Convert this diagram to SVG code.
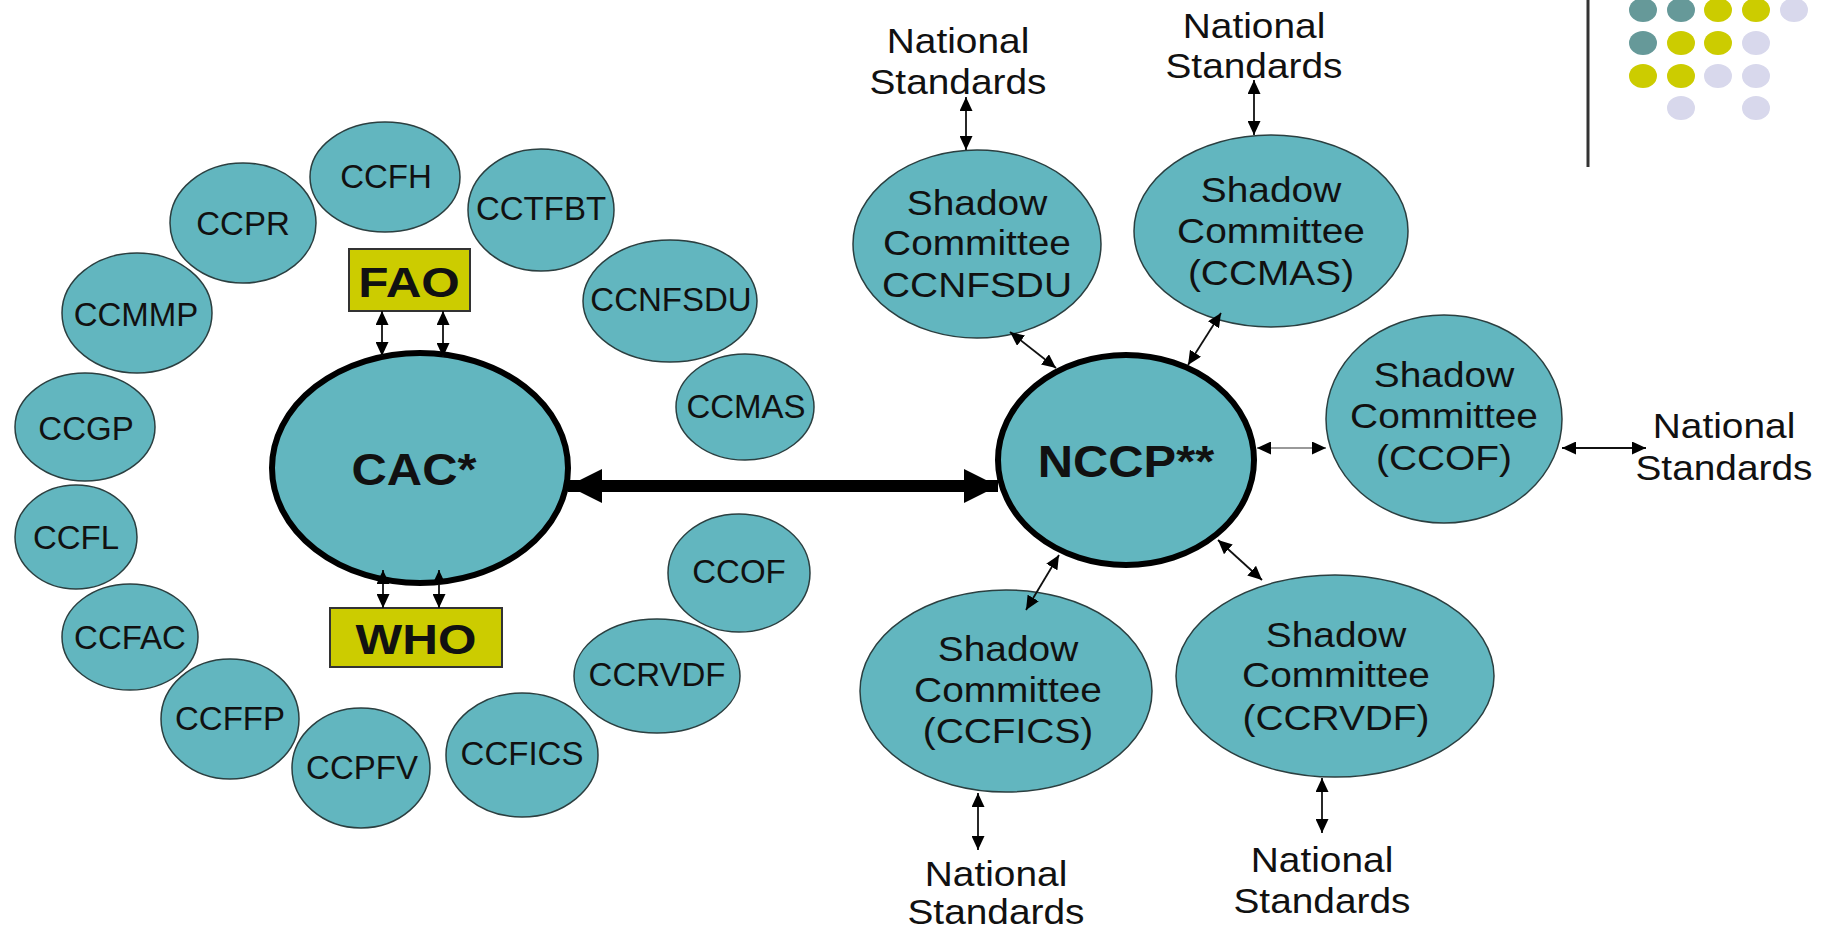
<svg xmlns="http://www.w3.org/2000/svg" width="1834" height="930" viewBox="0 0 1834 930">
<style>
.cc{fill:#62b6bf;stroke:#2b3f40;stroke-width:1.5}
.big{fill:#62b6bf;stroke:#000;stroke-width:6}
.box{fill:#cccc00;stroke:#333;stroke-width:2}
text{font-family:"Liberation Sans",Arial,sans-serif;fill:#111;text-anchor:middle}
.lbl{font-size:33px}
.bold{font-size:44px;font-weight:bold}
.bx{font-size:43px;font-weight:bold}
.sh{font-size:35px}
.ln{stroke:#111;stroke-width:1.8;fill:none;marker-start:url(#hs);marker-end:url(#he)}
.gray{stroke:#999;stroke-width:2.2}
.thick{stroke:#000;stroke-width:12;fill:none;marker-start:url(#bs);marker-end:url(#be)}
.t{fill:#669999}.y{fill:#cccc00}.l{fill:#d8d8ec}
</style>
<defs>
<marker id="he" markerUnits="userSpaceOnUse" markerWidth="14" markerHeight="13" refX="14" refY="6.5" orient="auto"><path d="M0,0L14,6.5L0,13z" fill="#000"/></marker>
<marker id="hs" markerUnits="userSpaceOnUse" markerWidth="14" markerHeight="13" refX="0" refY="6.5" orient="auto"><path d="M14,0L0,6.5L14,13z" fill="#000"/></marker>
<marker id="be" markerUnits="userSpaceOnUse" markerWidth="34" markerHeight="34" refX="34" refY="17" orient="auto"><path d="M0,0L34,17L0,34z" fill="#000"/></marker>
<marker id="bs" markerUnits="userSpaceOnUse" markerWidth="34" markerHeight="34" refX="0" refY="17" orient="auto"><path d="M34,0L0,17L34,34z" fill="#000"/></marker>
</defs>
<rect width="1834" height="930" fill="#fff"/>

<g id="decor">
<line x1="1588" y1="0" x2="1588" y2="167" stroke="#333" stroke-width="3"/>
<ellipse class="t" cx="1643" cy="10" rx="14" ry="12"/><ellipse class="t" cx="1681" cy="10" rx="14" ry="12"/><ellipse class="y" cx="1718" cy="10" rx="14" ry="12"/><ellipse class="y" cx="1756" cy="10" rx="14" ry="12"/><ellipse class="l" cx="1794" cy="10" rx="14" ry="12"/>
<ellipse class="t" cx="1643" cy="43" rx="14" ry="12"/><ellipse class="y" cx="1681" cy="43" rx="14" ry="12"/><ellipse class="y" cx="1718" cy="43" rx="14" ry="12"/><ellipse class="l" cx="1756" cy="43" rx="14" ry="12"/>
<ellipse class="y" cx="1643" cy="76" rx="14" ry="12"/><ellipse class="y" cx="1681" cy="76" rx="14" ry="12"/><ellipse class="l" cx="1718" cy="76" rx="14" ry="12"/><ellipse class="l" cx="1756" cy="76" rx="14" ry="12"/>
<ellipse class="l" cx="1681" cy="108" rx="14" ry="12"/><ellipse class="l" cx="1756" cy="108" rx="14" ry="12"/>
</g>

<g id="CCFH"><ellipse class="cc" cx="385" cy="177" rx="75" ry="55"/><text class="lbl" x="386" y="188">CCFH</text></g>
<g id="CCPR"><ellipse class="cc" cx="243" cy="223" rx="73" ry="60"/><text class="lbl" x="243" y="235">CCPR</text></g>
<g id="CCTFBT"><ellipse class="cc" cx="541" cy="210" rx="73" ry="61"/><text class="lbl" x="541" y="220">CCTFBT</text></g>
<g id="CCMMP"><ellipse class="cc" cx="137" cy="313" rx="75" ry="60"/><text class="lbl" x="136" y="326">CCMMP</text></g>
<g id="CCGP"><ellipse class="cc" cx="85" cy="427" rx="70" ry="54"/><text class="lbl" x="86" y="440">CCGP</text></g>
<g id="CCFL"><ellipse class="cc" cx="76" cy="537" rx="61" ry="52"/><text class="lbl" x="76" y="549">CCFL</text></g>
<g id="CCFAC"><ellipse class="cc" cx="130" cy="637" rx="68" ry="53"/><text class="lbl" x="130" y="649">CCFAC</text></g>
<g id="CCFFP"><ellipse class="cc" cx="230" cy="719" rx="69" ry="60"/><text class="lbl" x="230" y="730">CCFFP</text></g>
<g id="CCPFV"><ellipse class="cc" cx="361" cy="768" rx="69" ry="60"/><text class="lbl" x="362" y="779">CCPFV</text></g>
<g id="CCFICS"><ellipse class="cc" cx="522" cy="755" rx="76" ry="62"/><text class="lbl" x="522" y="765">CCFICS</text></g>
<g id="CCRVDF"><ellipse class="cc" cx="657" cy="676" rx="83" ry="57"/><text class="lbl" x="657" y="686">CCRVDF</text></g>
<g id="CCOF"><ellipse class="cc" cx="739" cy="573" rx="71" ry="59"/><text class="lbl" x="739" y="583">CCOF</text></g>
<g id="CCMAS"><ellipse class="cc" cx="745" cy="407" rx="69" ry="53"/><text class="lbl" x="746" y="418">CCMAS</text></g>
<g id="CCNFSDU"><ellipse class="cc" cx="670" cy="301" rx="87" ry="61"/><text class="lbl" x="671" y="311">CCNFSDU</text></g>

<g id="FAO"><rect class="box" x="349" y="249" width="121" height="62"/><text class="bx" transform="matrix(1.15 0 0 1 409 0)" x="0" y="297">FAO</text></g>
<g id="WHO"><rect class="box" x="330" y="608" width="172" height="59"/><text class="bx" transform="matrix(1.15 0 0 1 416 0)" x="0" y="654">WHO</text></g>

<g id="CAC"><ellipse class="big" cx="420" cy="468" rx="148" ry="115"/><text class="bold" transform="matrix(1.11 0 0 1 414 0)" x="0" y="485">CAC*</text></g>
<g id="NCCP"><ellipse class="big" cx="1126" cy="460" rx="128" ry="105"/><text class="bold" transform="matrix(1.11 0 0 1 1126 0)" x="0" y="477">NCCP**</text></g>

<g id="SC_CCNFSDU"><ellipse class="cc" cx="977" cy="244" rx="124" ry="94"/><text class="sh" transform="matrix(1.11 0 0 1 977 0)"><tspan x="0" y="215">Shadow</tspan><tspan x="0" y="255">Committee</tspan><tspan x="0" y="297">CCNFSDU</tspan></text></g>
<g id="SC_CCMAS"><ellipse class="cc" cx="1271" cy="231" rx="137" ry="96"/><text class="sh" transform="matrix(1.11 0 0 1 1271 0)"><tspan x="0" y="202">Shadow</tspan><tspan x="0" y="243">Committee</tspan><tspan x="0" y="285">(CCMAS)</tspan></text></g>
<g id="SC_CCOF"><ellipse class="cc" cx="1444" cy="419" rx="118" ry="104"/><text class="sh" transform="matrix(1.11 0 0 1 1444 0)"><tspan x="0" y="387">Shadow</tspan><tspan x="0" y="428">Committee</tspan><tspan x="0" y="470">(CCOF)</tspan></text></g>
<g id="SC_CCFICS"><ellipse class="cc" cx="1006" cy="691" rx="146" ry="101"/><text class="sh" transform="matrix(1.11 0 0 1 1008 0)"><tspan x="0" y="661">Shadow</tspan><tspan x="0" y="702">Committee</tspan><tspan x="0" y="743">(CCFICS)</tspan></text></g>
<g id="SC_CCRVDF"><ellipse class="cc" cx="1335" cy="676" rx="159" ry="101"/><text class="sh" transform="matrix(1.11 0 0 1 1336 0)"><tspan x="0" y="647">Shadow</tspan><tspan x="0" y="687">Committee</tspan><tspan x="0" y="730">(CCRVDF)</tspan></text></g>

<g id="NS1"><text class="sh" transform="matrix(1.11 0 0 1 958 0)"><tspan x="0" y="53">National</tspan><tspan x="0" y="94">Standards</tspan></text></g>
<g id="NS2"><text class="sh" transform="matrix(1.11 0 0 1 1254 0)"><tspan x="0" y="38">National</tspan><tspan x="0" y="78">Standards</tspan></text></g>
<g id="NS3"><text class="sh" transform="matrix(1.11 0 0 1 1724 0)"><tspan x="0" y="438">National</tspan><tspan x="0" y="480">Standards</tspan></text></g>
<g id="NS4"><text class="sh" transform="matrix(1.11 0 0 1 996 0)"><tspan x="0" y="886">National</tspan><tspan x="0" y="924">Standards</tspan></text></g>
<g id="NS5"><text class="sh" transform="matrix(1.11 0 0 1 1322 0)"><tspan x="0" y="872">National</tspan><tspan x="0" y="913">Standards</tspan></text></g>

<g id="connectors">
<line class="thick" x1="568" y1="486" x2="998" y2="486"/>
<line class="ln" x1="382" y1="311" x2="382" y2="356"/>
<line class="ln" x1="443" y1="311" x2="443" y2="357"/>
<line class="ln" x1="383" y1="570" x2="383" y2="608"/>
<line class="ln" x1="439" y1="570" x2="439" y2="608"/>
<line class="ln" x1="966" y1="97" x2="966" y2="150"/>
<line class="ln" x1="1254" y1="80" x2="1254" y2="135"/>
<line class="ln" x1="1562" y1="448" x2="1646" y2="448"/>
<line class="ln" x1="978" y1="793" x2="978" y2="850"/>
<line class="ln" x1="1322" y1="778" x2="1322" y2="833"/>
<line class="ln" x1="1010" y1="332" x2="1056" y2="368"/>
<line class="ln" x1="1221" y1="313" x2="1188" y2="365"/>
<line class="ln gray" x1="1257" y1="448" x2="1326" y2="448"/>
<line class="ln" x1="1059" y1="555" x2="1026" y2="610"/>
<line class="ln" x1="1218" y1="540" x2="1262" y2="580"/>
</g>
</svg>
